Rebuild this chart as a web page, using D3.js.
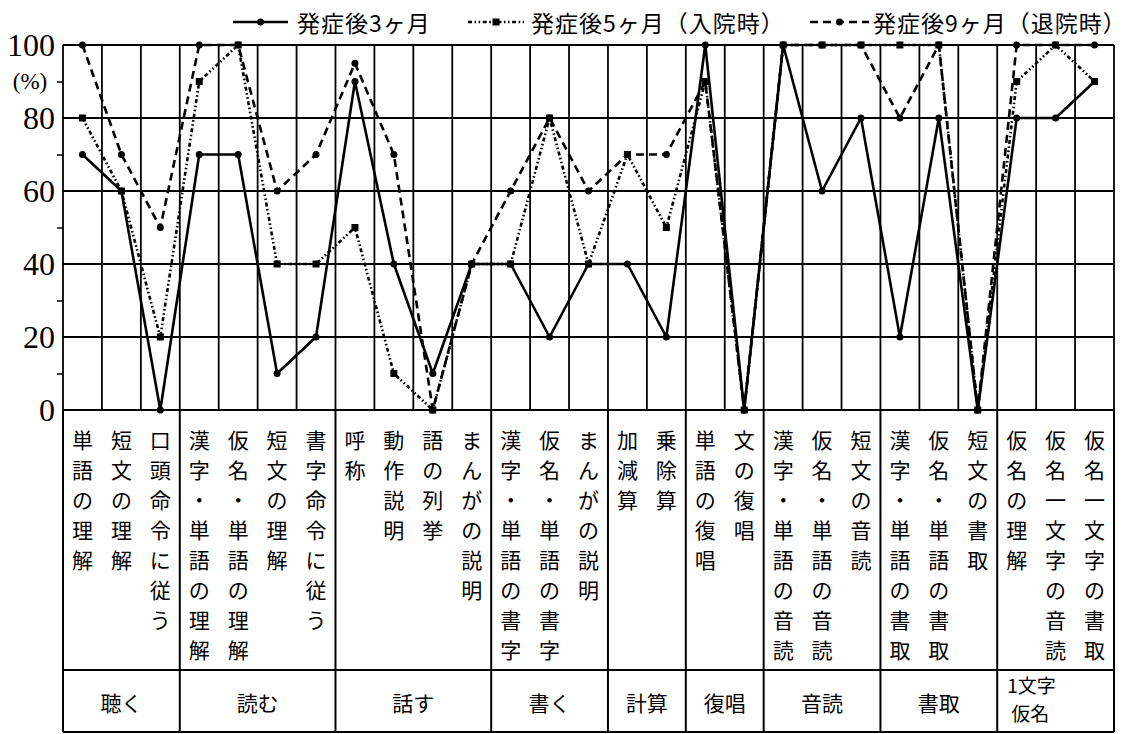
<!DOCTYPE html>
<html><head><meta charset="utf-8">
<script src="https://cdn.jsdelivr.net/npm/d3@7/dist/d3.min.js"></script>
<style>
html,body{margin:0;padding:0;background:#fff;}
svg{display:block;}
</style>
</head><body>
<script>
const categories = [
  "単語の理解","短文の理解","口頭命令に従う",
  "漢字・単語の理解","仮名・単語の理解","短文の理解","書字命令に従う",
  "呼称","動作説明","語の列挙","まんがの説明",
  "漢字・単語の書字","仮名・単語の書字","まんがの説明",
  "加減算","乗除算",
  "単語の復唱","文の復唱",
  "漢字・単語の音読","仮名・単語の音読","短文の音読",
  "漢字・単語の書取","仮名・単語の書取","短文の書取",
  "仮名の理解","仮名一文字の音読","仮名一文字の書取"
];
const groupNames = ["聴く","読む","話す","書く","計算","復唱","音読","書取","1文字\n仮名"];
const groupSizes = [3,4,4,3,2,2,3,3,3];
const seriesNames = ["発症後3ヶ月","発症後5ヶ月（入院時）","発症後9ヶ月（退院時）"];
const month3 = [70,60,0,70,70,10,20,90,40,10,40,40,20,40,40,20,100,0,100,60,80,20,80,0,80,80,90];
const month5 = [80,60,20,90,100,40,40,50,10,0,40,40,80,40,70,50,90,0,100,100,100,100,100,0,90,100,90];
const month9 = [100,70,50,100,100,60,70,95,70,0,40,60,80,60,70,70,90,0,100,100,100,80,100,0,100,100,100];
const yTicks = [0,20,40,60,80,100];
const yMinor = [10,30,50,70,90];

(function(){
const W = 1132, H = 734;
const pLeft = 63, pRight = 1114, pTop = 45, zeroY = 410, labelBottom = 670, pBottom = 732;
const jp = "'Noto Sans CJK JP','Noto Sans',sans-serif";
const serif = "'Liberation Serif','Times New Roman','DejaVu Serif',serif";

const svg = d3.select("body").append("svg").attr("width", W).attr("height", H);

const x = d3.scaleBand().domain(d3.range(categories.length)).range([pLeft, pRight]).padding(0);
const y = d3.scaleLinear().domain([0,100]).range([zeroY, pTop]);
const cx = i => x(i) + x.bandwidth()/2;
const edge = i => i < categories.length ? x(i) : pRight;

const g = svg.append("g");
g.selectAll("line.h").data(yTicks).join("line")
  .attr("x1", pLeft).attr("x2", pRight).attr("y1", d=>y(d)).attr("y2", d=>y(d))
  .attr("stroke","#000").attr("stroke-width",2);
g.selectAll("line.v").data(d3.range(categories.length+1)).join("line")
  .attr("x1", edge).attr("x2", edge)
  .attr("y1", pTop).attr("y2", zeroY)
  .attr("stroke","#000").attr("stroke-width",1.8);
let acc = 0; const bounds = [0];
groupSizes.forEach(s => { acc += s; bounds.push(acc); });
g.selectAll("line.gb").data(bounds).join("line")
  .attr("x1", edge).attr("x2", edge)
  .attr("y1", zeroY).attr("y2", pBottom)
  .attr("stroke","#000").attr("stroke-width",2);
[labelBottom, pBottom].forEach(yy => {
  g.append("line").attr("x1", pLeft).attr("x2", pRight).attr("y1", yy).attr("y2", yy)
   .attr("stroke","#000").attr("stroke-width",2);
});

const yAxis = d3.axisLeft(y).tickValues(yTicks).tickSize(0).tickPadding(8);
const ya = svg.append("g").attr("transform", `translate(${pLeft},0)`).call(yAxis);
ya.attr("font-family", serif).attr("font-size", 32);
ya.select(".domain").remove();
ya.selectAll("text").style("font-family", serif).style("font-size","32px").attr("fill","#000");
const yAxisMinor = d3.axisLeft(y).tickValues(yMinor).tickSize(6).tickFormat("");
const ym = svg.append("g").attr("transform", `translate(${pLeft},0)`).call(yAxisMinor);
ym.select(".domain").remove();
ym.selectAll("line").attr("stroke","#000").attr("stroke-width",1.5);
svg.append("text").attr("x", 30).attr("y", y(90)).attr("text-anchor","middle")
  .attr("dominant-baseline","central").style("font-family", serif).style("font-size","23px").text("(%)");

const lab = svg.append("g").attr("font-family", jp).attr("font-size", 21).attr("fill","#000");
categories.forEach((c, i) => {
  Array.from(c).forEach((ch, k) => {
    lab.append("text").attr("x", cx(i)).attr("y", 439 + k*30)
      .attr("text-anchor","middle").attr("dominant-baseline","central").text(ch);
  });
});
groupNames.forEach((n, gi) => {
  const a = bounds[gi], b = bounds[gi+1];
  const x0 = edge(a), x1 = edge(b);
  const lines = n.split("\n");
  if (lines.length === 1) {
    lab.append("text").attr("x", (x0+x1)/2).attr("y", 702).attr("text-anchor","middle")
      .attr("dominant-baseline","central").text(n);
  } else {
    lines.forEach((t, k) => {
      lab.append("text").attr("x", x0 + 10 + k*4).attr("y", 684 + k*28).attr("text-anchor","start")
        .attr("dominant-baseline","central").attr("font-size", 19).text(t);
    });
  }
});

const series = [
  {name: seriesNames[0], data: month3, dash: null, marker: "circle"},
  {name: seriesNames[1], data: month5, dash: "4,2.5,1.6,2.5,1.6,2.5", marker: "square"},
  {name: seriesNames[2], data: month9, dash: "8,5", marker: "circle"}
];
const line = d3.line().x((d,i)=>cx(i)).y(d=>y(d));
series.forEach(s => {
  svg.append("path").attr("d", line(s.data)).attr("fill","none").attr("stroke","#000")
    .attr("stroke-width", 2.6).attr("stroke-dasharray", s.dash).attr("stroke-linejoin","round");
  const m = svg.append("g");
  if (s.marker === "circle") {
    m.selectAll("circle").data(s.data).join("circle").attr("cx",(d,i)=>cx(i)).attr("cy",d=>y(d)).attr("r",3.5).attr("fill","#000");
  } else {
    m.selectAll("rect").data(s.data).join("rect").attr("x",(d,i)=>cx(i)-3.5).attr("y",d=>y(d)-3.5)
      .attr("width",7).attr("height",7).attr("fill","#000");
  }
});

const legendPos = [{x1:233,x2:288,tx:297},{x1:468,x2:524,tx:531},{x1:810,x2:869,tx:873}];
const legY = 22;
series.forEach((s, k) => {
  const p = legendPos[k];
  svg.append("line").attr("x1",p.x1).attr("x2",p.x2).attr("y1",legY).attr("y2",legY)
    .attr("stroke","#000").attr("stroke-width",2.6).attr("stroke-dasharray", s.dash);
  const mx = (p.x1+p.x2)/2;
  if (s.marker === "circle") svg.append("circle").attr("cx",mx).attr("cy",legY).attr("r",3.5);
  else svg.append("rect").attr("x",mx-3.5).attr("y",legY-3.5).attr("width",7).attr("height",7);
  svg.append("text").attr("x",p.tx).attr("y",legY).attr("dominant-baseline","central")
    .attr("font-family",jp).attr("font-size",23).attr("letter-spacing",1).text(s.name);
});
})();
</script>
</body></html>
